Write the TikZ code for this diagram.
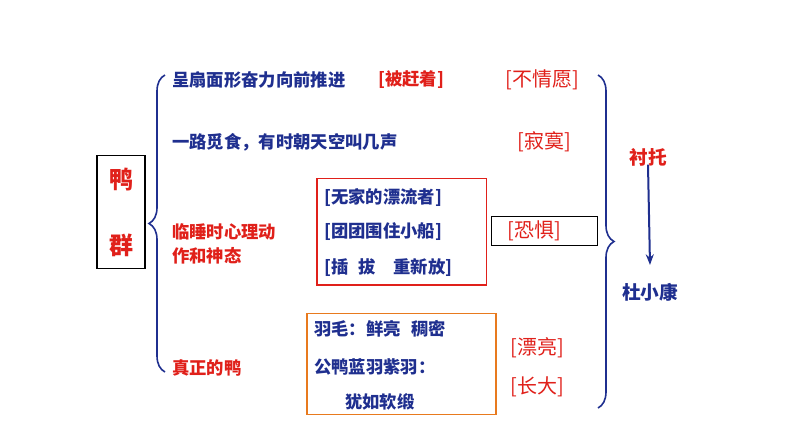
\documentclass[tikz,border=0pt]{standalone}
\usepackage{fontspec}
\setmainfont{Noto Sans CJK SC}
\usetikzlibrary{decorations.pathreplacing,arrows.meta}
\definecolor{bl}{HTML}{1F2F8F}
\definecolor{rd}{HTML}{E0201A}
\definecolor{og}{HTML}{E87A1E}
\tikzset{
 bt/.style={text=bl,font=\fontsize{13}{15}\selectfont\bfseries,anchor=west,inner sep=0},
 rt/.style={text=rd,font=\fontsize{13}{15}\selectfont\bfseries,anchor=west,inner sep=0},
 rb/.style={text=rd,font=\fontsize{15}{17}\selectfont,anchor=west,inner sep=0},
 brc/.style={draw=bl,line width=1.2pt}
}
\begin{document}
\begin{tikzpicture}[x=0.75pt,y=-0.75pt]
\useasboundingbox (0,0) rectangle (794,447);
\node[draw=black,line width=0.8pt,minimum width=36pt,minimum height=85pt] (box) at (121,212) {};
\node[text=rd,font=\fontsize{18}{20}\selectfont\bfseries] (ya) at (121,180) {鸭};
\node[text=rd,font=\fontsize{18}{20}\selectfont\bfseries] (qun) at (121,245) {群};
\draw[brc,decorate,decoration={brace,amplitude=12pt}] (165,372) -- (165,75);
\draw[brc,decorate,decoration={brace,amplitude=12pt}] (598,75) -- (598,408);
\node[bt] (t1) at (172,80) {呈扇面形奋力向前推进};
\node[rt] (t1b) at (378,80) {[被赶着]};
\node[rb] (t1c) at (505,80) {[不情愿]};
\node[bt] (t2) at (172,142) {一路觅食，有时朝天空叫几声};
\node[rb] (t2c) at (517,142) {[寂寞]};
\node[rt] (t3) at (172,232) {临睡时心理动};
\node[rt] (t3b) at (172,256) {作和神态};
\node[draw=rd,line width=1pt,minimum width=127pt,minimum height=80pt] (rbx) at (401.5,231.5) {};
\node[bt] (r1) at (324,197) {[无家的漂流者]};
\node[bt] (r2) at (324,232) {[团团围住小船]};
\node[bt] (r3) at (324,268) {[插\hspace{0.6em}拔\hspace{1em}重新放]};
\node[draw=black,line width=0.6pt,minimum width=80pt,minimum height=22pt] (kbx) at (544.5,231) {};
\node[rb,anchor=center] (kj) at (534,231) {[恐惧]};
\node[rt] (t4) at (172,368) {真正的鸭};
\node[draw=og,line width=1.2pt,minimum width=142pt,minimum height=76pt] (obx) at (401.5,364) {};
\node[bt] (o1) at (314,329) {羽毛：鲜亮\hspace{0.6em}稠密};
\node[bt] (o2) at (314,367) {公鸭蓝羽紫羽：};
\node[bt] (o3) at (345,402) {犹如软缎};
\node[rb] (p1) at (510,348) {[漂亮]};
\node[rb] (p2) at (510,387) {[长大]};
\node[text=rd,font=\fontsize{14}{16}\selectfont\bfseries] (ct) at (648,157) {衬托};
\node[text=bl,font=\fontsize{14}{16}\selectfont\bfseries] (dxk) at (650,292) {杜小康};
\draw[bl,line width=1.5pt,-{Stealth[length=8pt,width=6pt]}] (ct.south)++(0,-6) -- ([yshift=10]dxk.north);
\end{tikzpicture}
\end{document}
